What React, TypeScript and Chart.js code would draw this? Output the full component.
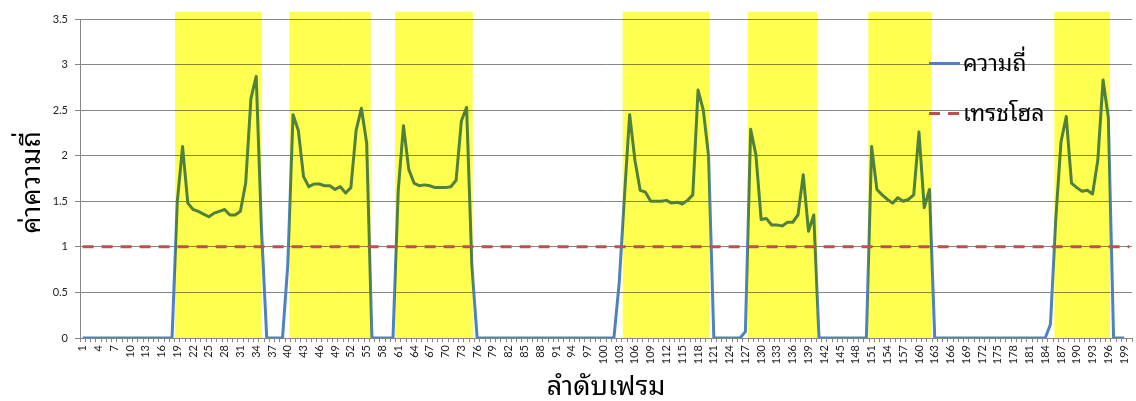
import React, { useEffect, useRef } from "react";
import { Chart, registerables } from "chart.js";

Chart.register(...registerables);

// ---------- data ----------
const frameLabels: string[] = Array.from({ length: 200 }, (_, i) => String(i + 1));

// frequency per frame (frames 1..199)
const frequency: number[] = [
  0, 0, 0, 0, 0, 0, 0, 0, 0, 0, 0, 0, 0, 0, 0, 0, 0, 0,
  1.50, 2.10, 1.48, 1.41, 1.39, 1.36, 1.33, 1.37, 1.39, 1.41, 1.35, 1.35, 1.39, 1.70, 2.63, 2.87, 1.20,
  0, 0, 0, 0,
  0.80,
  2.45, 2.28, 1.77, 1.66, 1.69, 1.69, 1.67, 1.67, 1.63, 1.66, 1.59, 1.65, 2.28, 2.52, 2.14,
  0, 0, 0, 0, 0,
  1.62, 2.33, 1.85, 1.70, 1.67, 1.68, 1.67, 1.65, 1.65, 1.65, 1.66, 1.73, 2.38, 2.53, 0.80,
  0, 0, 0, 0, 0, 0, 0, 0, 0, 0, 0, 0, 0, 0, 0, 0, 0, 0, 0, 0, 0, 0, 0, 0, 0, 0, 0,
  0.60,
  1.55, 2.45, 1.95, 1.62, 1.60, 1.50, 1.50, 1.50, 1.51, 1.48, 1.49, 1.47, 1.51, 1.57, 2.72, 2.50, 2.00,
  0, 0, 0, 0, 0, 0,
  0.07,
  2.29, 2.01, 1.30, 1.31, 1.24, 1.24, 1.23, 1.27, 1.27, 1.35, 1.79, 1.17, 1.35,
  0, 0, 0, 0, 0, 0, 0, 0, 0, 0,
  2.10, 1.63, 1.57, 1.52, 1.48, 1.54, 1.50, 1.52, 1.57, 2.26, 1.43, 1.63,
  0, 0, 0, 0, 0, 0, 0, 0, 0, 0, 0, 0, 0, 0, 0, 0, 0, 0, 0, 0, 0, 0,
  0.15,
  1.30, 2.15, 2.43, 1.70, 1.65, 1.61, 1.62, 1.58, 1.95, 2.83, 2.42,
  0, 0, 0,
];

const THRESHOLD = 1;

// highlighted frame ranges (in frame units)
const bandStart: number[] = [18.56, 40.29, 60.39, 103.67, 127.44, 150.37, 185.73];
const bandEnd: number[] = [35.04, 55.77, 75.16, 120.14, 140.67, 162.42, 196.32];
const BAND_TOP = 3.58;

const seriesNames: string[] = ["ความถี่", "เทรชโฮล"];
const xTitle = "ลำดับเฟรม";
const yTitle = "ค่าความถี่";

// ---------- styles ----------
const BLUE = "#4F81BD";
const RED = "#C0504D";
const YELLOW = "rgb(255,255,80)";
const GRID = "#868686";
const THAI_FONT =
  "'Noto Sans Thai Looped', 'Noto Serif Thai', Tahoma, 'Leelawadee UI', Loma, Garuda, Norasi, 'Noto Sans Thai', sans-serif";
const NUM_FONT = "Lato, 'Open Sans', 'Liberation Sans', sans-serif";

const bandPlugin = {
  id: "bands",
  afterDatasetDraw(chart: any, args: any) {
    if (args.index !== 0) return;
    const { ctx } = chart;
    const x = chart.scales.x;
    const y = chart.scales.y;
    ctx.save();
    ctx.globalCompositeOperation = "multiply";
    ctx.fillStyle = YELLOW;
    const top = y.getPixelForValue(BAND_TOP);
    const bottom = y.getPixelForValue(0);
    bandStart.forEach((s, i) => {
      const x0 = x.getPixelForValue(s - 1);
      const x1 = x.getPixelForValue(bandEnd[i] - 1);
      ctx.fillRect(x0, top, x1 - x0, bottom - top);
    });
    ctx.restore();
  },
};

const textPlugin = {
  id: "texts",
  afterDraw(chart: any) {
    const { ctx, chartArea } = chart;
    ctx.save();
    // legend
    const lx0 = 929;
    const lx1 = 960;
    const rows = [63.5, 113.5];
    ctx.lineWidth = 3;
    ctx.lineCap = "butt";
    ctx.strokeStyle = BLUE;
    ctx.setLineDash([]);
    ctx.beginPath();
    ctx.moveTo(lx0, rows[0]);
    ctx.lineTo(lx1, rows[0]);
    ctx.stroke();
    ctx.strokeStyle = RED;
    ctx.setLineDash([11, 8]);
    ctx.beginPath();
    ctx.moveTo(lx0, rows[1]);
    ctx.lineTo(lx1, rows[1]);
    ctx.stroke();
    ctx.setLineDash([]);
    ctx.fillStyle = "#000";
    ctx.font = `23px ${THAI_FONT}`;
    ctx.textAlign = "left";
    ctx.textBaseline = "alphabetic";
    ctx.fillText(seriesNames[0], 963, rows[0] + 7);
    ctx.fillText(seriesNames[1], 963, rows[1] + 7);

    // axis titles
    ctx.font = `27px ${THAI_FONT}`;
    ctx.textAlign = "center";
    ctx.fillText(xTitle, (chartArea.left + chartArea.right) / 2, 395);
    ctx.translate(40, (chartArea.top + chartArea.bottom) / 2 + 4);
    ctx.rotate(-Math.PI / 2);
    ctx.fillText(yTitle, 0, 0);
    ctx.restore();
  },
};

export default function App() {
  const ref = useRef<HTMLCanvasElement | null>(null);

  useEffect(() => {
    document.body.style.margin = "0";
    const canvas = ref.current;
    if (!canvas) return;
    const chart = new Chart(canvas, {
      type: "line",
      data: {
        labels: frameLabels,
        datasets: [
          {
            label: seriesNames[0],
            data: frequency,
            borderColor: BLUE,
            borderWidth: 3,
            pointRadius: 0,
            borderJoinStyle: "round",
            tension: 0,
            order: 2,
          },
          {
            label: seriesNames[1],
            data: frameLabels.map(() => THRESHOLD),
            borderColor: RED,
            borderWidth: 3,
            borderDash: [11, 8],
            pointRadius: 0,
            tension: 0,
            order: 1,
          },
        ],
      },
      options: {
        responsive: false,
        animation: false,
        devicePixelRatio: 1,
        layout: { padding: { top: 19, right: 4, left: 0, bottom: 0 } },
        plugins: {
          legend: { display: false },
          tooltip: { enabled: false },
        },
        scales: {
          x: {
            type: "category",
            offset: true,
            grid: {
              offset: true,
              drawOnChartArea: false,
              drawTicks: true,
              tickLength: 4,
              color: GRID,
            },
            border: { display: true, color: GRID, width: 1 },
            ticks: {
              autoSkip: false,
              minRotation: 90,
              maxRotation: 90,
              padding: 3,
              color: "#222",
              font: { family: NUM_FONT, size: 11 },
              callback: (_v: any, i: number) => (i % 3 === 0 ? frameLabels[i] : ""),
            },
            afterFit: (scale: any) => {
              scale.height = 63;
              scale.paddingLeft = 0;
              scale.paddingRight = 0;
            },
          },
          y: {
            min: 0,
            max: 3.5,
            grid: { color: GRID, tickLength: 5, lineWidth: 1 },
            border: { display: true, color: GRID, width: 1 },
            ticks: {
              stepSize: 0.5,
              padding: 7,
              color: "#222",
              font: { family: NUM_FONT, size: 11 },
              callback: (v: any) => String(v),
            },
            afterFit: (scale: any) => {
              scale.width = 80;
              scale.paddingTop = 0;
              scale.paddingBottom = 0;
            },
          },
        },
      },
      plugins: [bandPlugin, textPlugin],
    });
    return () => chart.destroy();
  }, []);

  return (
    <div style={{ width: 1136, height: 401 }}>
      <canvas ref={ref} width={1136} height={401} />
    </div>
  );
}
